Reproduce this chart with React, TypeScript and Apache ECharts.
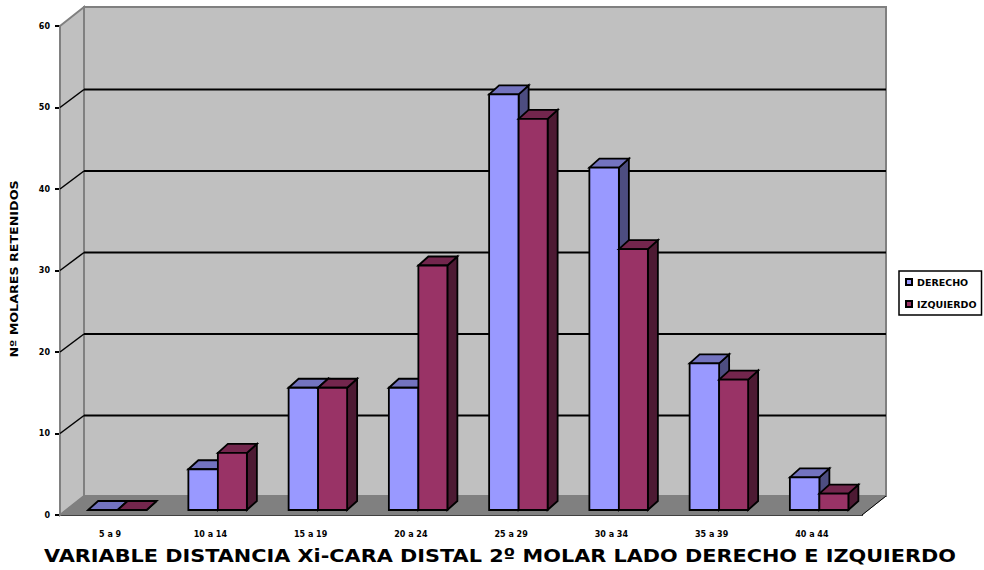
import React, { useEffect, useRef } from "react";
import * as echarts from "echarts";

const categories = ["5 a 9", "10 a 14", "15 a 19", "20 a 24", "25 a 29", "30 a 34", "35 a 39", "40 a 44"];
const derecho = [0, 5, 15, 15, 51, 42, 18, 4];
const izquierdo = [0, 7, 15, 30, 48, 32, 16, 2];
const yTicks = [0, 10, 20, 30, 40, 50, 60];
const seriesNames = ["DERECHO", "IZQUIERDO"];
const yTitle = "Nº MOLARES RETENIDOS";
const chartTitle = "VARIABLE DISTANCIA Xi-CARA DISTAL 2º MOLAR LADO DERECHO E IZQUIERDO";

// Oblique projection of the 3D box, in pixels.
const WALL_DX = 24;
const WALL_DY = 19;
const GRID_DY = 18;
const BAR_SHIFT_X = -22;
const BAR_SHIFT_Y = 5;
const BAR_DEPTH_X = 10;
const BAR_DEPTH_Y = 9;

const WALL = "#c0c0c0";
const FLOOR = "#808080";
const EDGE = "#000000";
const LABEL_FONT = "DejaVu Sans";

const poly = (points: number[][], fill: string, stroke = EDGE, lineWidth = 1.8) => ({
  type: "polygon",
  shape: { points },
  style: { fill, stroke, lineWidth },
});

const line = (x1: number, y1: number, x2: number, y2: number, stroke: string, lineWidth: number) => ({
  type: "line",
  shape: { x1, y1, x2, y2 },
  style: { stroke, lineWidth, fill: "none" },
});

// Back wall, side wall, floor and the gridlines wrapping both walls.
const renderWalls = (params: any, api: any) => {
  const cs = params.coordSys;
  const left = cs.x;
  const right = cs.x + cs.width;
  const top = cs.y;
  const bottom = cs.y + cs.height;
  const y = api.coord([0, api.value(1)])[1];
  const children: any[] = [];
  if (params.dataIndex === 0) {
    children.push(
      poly([[left + WALL_DX, top - WALL_DY], [right + WALL_DX, top - WALL_DY], [right + WALL_DX, bottom - WALL_DY], [left + WALL_DX, bottom - WALL_DY]], WALL, FLOOR, 2),
      poly([[left, top], [left + WALL_DX, top - WALL_DY], [left + WALL_DX, bottom - WALL_DY], [left, bottom]], WALL, FLOOR, 2),
      poly([[left, bottom], [left + WALL_DX, bottom - WALL_DY], [right + WALL_DX, bottom - WALL_DY], [right, bottom]], FLOOR, FLOOR, 1),
      line(right, bottom, right + WALL_DX, bottom - WALL_DY, EDGE, 1),
    );
  }
  if (api.value(1) > 0 && api.value(1) < 60) {
    children.push(
      line(left, y, left + WALL_DX, y - GRID_DY, EDGE, 1.5),
      line(left + WALL_DX, y - GRID_DY, right + WALL_DX, y - GRID_DY, EDGE, 2),
    );
  }
  return { type: "group", children };
};

// One extruded bar: front face, top and right side.
const renderBar = (start: number, width: number, front: string, topFace: string, side: string) => (params: any, api: any) => {
  const center = api.coord([api.value(0), api.value(1)]);
  const base = api.coord([api.value(0), 0]);
  const x0 = center[0] + start + BAR_SHIFT_X;
  const x1 = x0 + width;
  const yTop = center[1] - BAR_SHIFT_Y;
  const yBase = base[1] - BAR_SHIFT_Y;
  const dx = BAR_DEPTH_X;
  const dy = BAR_DEPTH_Y;
  return {
    type: "group",
    children: [
      poly([[x1, yTop], [x1 + dx, yTop - dy], [x1 + dx, yBase - dy], [x1, yBase]], side),
      poly([[x0, yTop], [x0 + dx, yTop - dy], [x1 + dx, yTop - dy], [x1, yTop]], topFace),
      poly([[x0, yTop], [x1, yTop], [x1, yBase], [x0, yBase]], front),
    ],
  };
};

export default function App() {
  const ref = useRef<HTMLDivElement>(null);

  useEffect(() => {
    const chart = echarts.init(ref.current!, null, { renderer: "svg" });
    chart.setOption({
      animation: false,
      backgroundColor: "#ffffff",
      textStyle: { fontFamily: LABEL_FONT },
      grid: { left: 60, right: 122, top: 26, bottom: 55 },
      graphic: [
        {
          type: "text",
          x: 500,
          y: 556,
          scaleX: 1.156,
          style: { text: chartTitle, align: "center", verticalAlign: "middle", fontFamily: LABEL_FONT, fontWeight: "bold", fontSize: 18, fill: "#000" },
        },
        {
          type: "text",
          x: 15,
          y: 269,
          rotation: Math.PI / 2,
          scaleX: 1.27,
          style: { text: yTitle, align: "center", verticalAlign: "middle", fontFamily: LABEL_FONT, fontWeight: "bold", fontSize: 10, fill: "#000" },
        },
      ],
      legend: {
        orient: "vertical",
        left: 899,
        top: 271,
        data: seriesNames,
        icon: "rect",
        itemWidth: 6,
        itemHeight: 6,
        itemGap: 12,
        padding: [6, 5, 6, 6],
        borderColor: "#000",
        borderWidth: 1.5,
        textStyle: { fontFamily: LABEL_FONT, fontWeight: "bold", fontSize: 9.5, color: "#000" },
      },
      xAxis: {
        type: "category",
        data: categories,
        axisLine: { lineStyle: { color: "#000", width: 2 } },
        axisTick: { length: 7, lineStyle: { color: "#000", width: 2 } },
        axisLabel: { fontFamily: LABEL_FONT, fontWeight: "bold", fontSize: 8, color: "#000", margin: 15 },
      },
      yAxis: {
        type: "value",
        min: 0,
        max: 60,
        interval: 10,
        axisLine: { show: true, lineStyle: { color: "#000", width: 2 } },
        axisTick: { show: true, length: 5, lineStyle: { color: "#000", width: 2 } },
        axisLabel: { fontFamily: LABEL_FONT, fontWeight: "bold", fontSize: 8, color: "#000", margin: 10 },
        splitLine: { show: false },
      },
      series: [
        {
          type: "custom",
          name: "walls",
          z: 1,
          clip: false,
          renderItem: renderWalls,
          encode: { x: 0, y: 1 },
          data: yTicks.map((t) => [0, t]),
          silent: true,
        },
        {
          type: "custom",
          name: seriesNames[0],
          z: 2,
          clip: false,
          itemStyle: { color: "#9999ff", borderColor: "#000", borderWidth: 1 },
          renderItem: renderBar(0, 29.5, "#9999ff", "#7373bf", "#4d4d80"),
          encode: { x: 0, y: 1 },
          data: derecho.map((v, i) => [i, v]),
        },
        {
          type: "custom",
          name: seriesNames[1],
          z: 3,
          clip: false,
          itemStyle: { color: "#993366", borderColor: "#000", borderWidth: 1 },
          renderItem: renderBar(29.5, 29, "#993366", "#73264d", "#4d1a33"),
          encode: { x: 0, y: 1 },
          data: izquierdo.map((v, i) => [i, v]),
        },
      ],
    });
    return () => chart.dispose();
  }, []);

  return <div ref={ref} style={{ position: "absolute", left: 0, top: 0, width: 984, height: 570 }} />;
}
